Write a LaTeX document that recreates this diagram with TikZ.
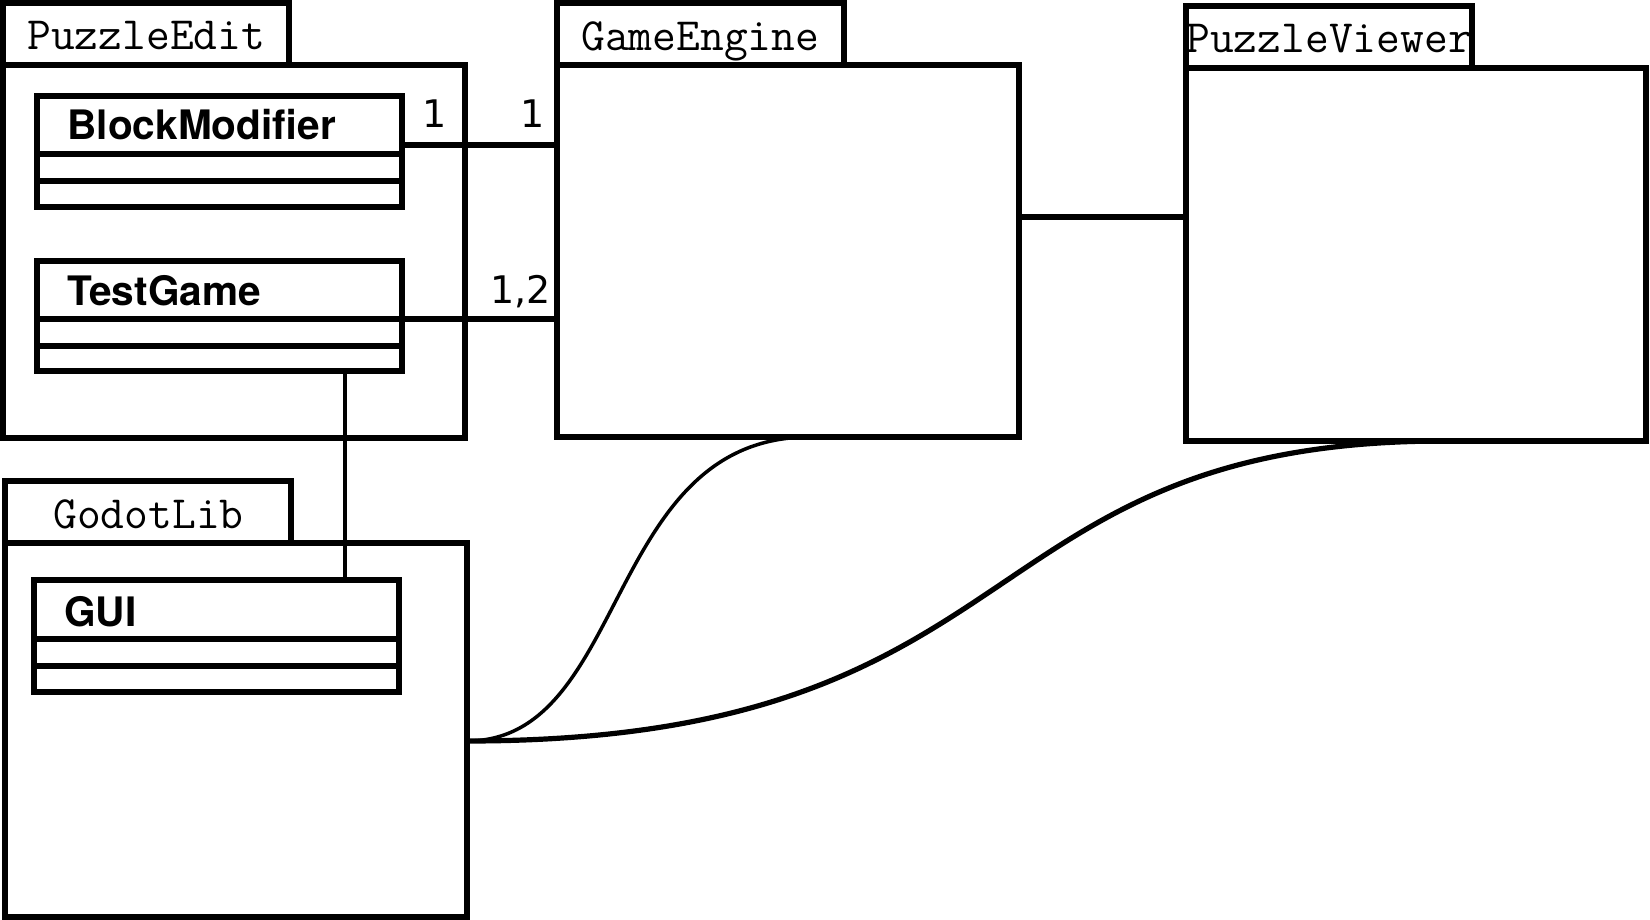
\documentclass[tikz,border=0pt]{standalone}
\usepackage{fontspec}
\newfontfamily\clsfont{TeX Gyre Heros}
\newfontfamily\multfont{DejaVu Sans}
\begin{document}
\begin{tikzpicture}[x=0.5pt,y=-0.5pt,
  box/.style={draw, rectangle, line width=2.75pt, inner sep=0pt, outer sep=0pt, anchor=north west},
  conn/.style={line width=2.75pt},
  thinconn/.style={line width=1.75pt},
  midconn/.style={line width=2.6pt},
  tabtxt/.style={font=\ttfamily\fontsize{23.1}{27}\selectfont, inner sep=0pt, anchor=base west},
  multtxt/.style={font=\multfont\fontsize{19}{23}\selectfont, inner sep=0pt, anchor=base},
  clstxt/.style={font=\clsfont\bfseries\fontsize{20.3}{24}\selectfont, inner sep=0pt, anchor=base west},
  sep/.style={line width=2.75pt}]
\useasboundingbox (0,0) rectangle (1650,920);

% ---- PuzzleEdit package
\node[box, minimum width=231pt, minimum height=186.5pt] (pe) at (3,65) {};
\node[box, minimum width=143pt, minimum height=31pt] (petab) at (3,3) {};
\node[tabtxt] (petxt) at (27,50) {PuzzleEdit};

\node[box, minimum width=182.5pt, minimum height=55.5pt] (bm) at (37,96) {};
\draw[sep] (37,154) -- (402,154);
\draw[sep] (37,181) -- (402,181);
\node[clstxt] (bmtxt) at (67,140) {BlockModifier};

\node[box, minimum width=182.5pt, minimum height=55pt] (tg) at (37,261) {};
\draw[sep] (37,319) -- (402,319);
\draw[sep] (37,346) -- (402,346);
\node[clstxt] (tgtxt) at (67,305) {TestGame};

% ---- GameEngine package
\node[box, minimum width=231pt, minimum height=186pt] (ge) at (557,65) {};
\node[box, minimum width=143.5pt, minimum height=31pt] (getab) at (557,3) {};
\node[tabtxt] (getxt) at (581,51) {GameEngine};

% ---- PuzzleViewer package
\node[box, minimum width=230pt, minimum height=186.5pt] (pv) at (1186,68) {};
\node[box, minimum width=143pt, minimum height=31pt] (pvtab) at (1186,6) {};
\node[tabtxt] (pvtxt) at (1186,53) {PuzzleViewer};

% ---- GodotLib package
\node[box, minimum width=231pt, minimum height=187pt] (gl) at (5,543) {};
\node[box, minimum width=143pt, minimum height=31pt] (gltab) at (5,481) {};
\node[tabtxt] (gltxt) at (53,528) {GodotLib};

\node[box, minimum width=182.5pt, minimum height=56pt] (gui) at (34,580) {};
\draw[sep] (34,639) -- (399,639);
\draw[sep] (34,666) -- (399,666);
\node[clstxt] (guitxt) at (64,626) {GUI};

% ---- connectors
\coordinate (c1) at ([yshift=3.25pt]bm.east);
\draw[conn] (c1) -- (c1 -| ge.west);
\coordinate (c2) at ([yshift=-1.5pt]tg.east);
\draw[conn] (c2) -- (c2 -| ge.west);
\coordinate (c3) at ([yshift=17pt]ge.east);
\draw[conn] (c3) -- (c3 -| pv.west);
\coordinate (c4) at ([xshift=62.75pt]tg.south);
\draw[thinconn] (c4) -- (c4 |- gui.north);

\coordinate (c5) at ([yshift=-5.5pt]gl.east);
\coordinate (c6) at ([xshift=11pt]ge.south);
\coordinate (c7) at ([xshift=14.5pt]pv.south);
\draw[thinconn] (c5) .. controls +(162,0) and +(-206,0) .. (c6);
\draw[midconn] (c5) .. controls +(577,0) and +(-484,0) .. (c7);

% ---- multiplicities
\node[multtxt] (m1) at (435,127) {1};
\node[multtxt] (m2) at (533,127) {1};
\node[multtxt, anchor=base east] (m3) at (551,303) {1,2};
\end{tikzpicture}
\end{document}
